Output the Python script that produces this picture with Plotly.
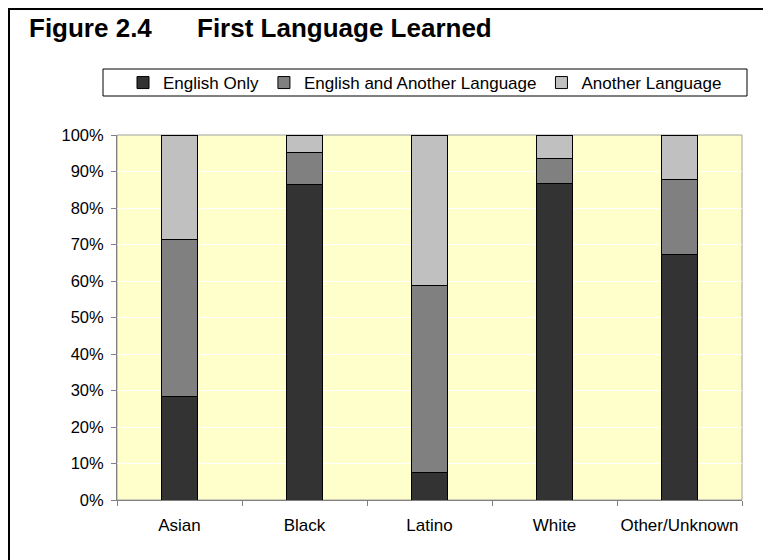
import plotly.graph_objects as go

categories = ["Asian", "Black", "Latino", "White", "Other/Unknown"]
english_only = [28.4, 86.5, 7.4, 86.8, 67.3]
english_and_another = [43.0, 8.8, 51.4, 6.8, 20.6]
another_language = [28.6, 4.7, 41.2, 6.4, 12.1]
series_names = ["English Only", "English and Another Language", "Another Language"]
series_colors = ["#333333", "#808080", "#C0C0C0"]
y_tick_values = [0, 10, 20, 30, 40, 50, 60, 70, 80, 90, 100]
y_tick_labels = ["0%", "10%", "20%", "30%", "40%", "50%", "60%", "70%", "80%", "90%", "100%"]

# the page body adds an 8px offset; work in reference-window pixels
OFF = 8
W, H = 771 - OFF, 560 - OFF
PL, PR, PT, PB = 117, 742, 135, 500  # plot area in window pixels
L, R, T, B = PL - OFF, W - (PR - OFF), PT - OFF, H - (PB - OFF)
pw, ph = W - L - R, H - T - B

def px(x):
    return (x - OFF - L) / pw

def py(y):
    return (H - B - (y - OFF)) / ph

fig = go.Figure()
for name, vals, col in zip(series_names, [english_only, english_and_another, another_language], series_colors):
    fig.add_trace(go.Bar(
        x=categories, y=vals, name=name,
        marker=dict(color=col, line=dict(color="#000000", width=1)),
        width=0.29,
    ))

fig.update_layout(
    width=W, height=H,
    barmode="stack",
    margin=dict(l=L, r=R, t=T, b=B, pad=0),
    paper_bgcolor="white",
    plot_bgcolor="#FFFFCC",
    font=dict(family="Arial, Liberation Sans, sans-serif", size=16, color="black"),
    showlegend=True,
    legend=dict(
        orientation="h", x=px(425), xanchor="center", y=py(83), yanchor="middle",
        bgcolor="rgba(0,0,0,0)", borderwidth=0,
        font=dict(size=17), traceorder="normal",
        itemwidth=30,
    ),
    xaxis=dict(
        showline=True, linecolor="#808080", linewidth=1,
        ticks="outside", ticklen=5, tickcolor="#808080", tickson="boundaries",
        showgrid=False, tickfont=dict(size=17), tickangle=0, ticklabelstandoff=10,
    ),
    yaxis=dict(
        range=[0, 100], tickmode="array", tickvals=y_tick_values, ticktext=y_tick_labels,
        showline=True, linecolor="#808080", linewidth=1,
        ticks="outside", ticklen=5, tickcolor="#808080",
        showgrid=True, gridcolor="white", gridwidth=1,
        zeroline=False, tickfont=dict(size=16.5), ticklabelstandoff=4,
    ),
    shapes=[
        dict(type="rect", xref="paper", yref="paper", x0=0, x1=1, y0=0, y1=1,
             line=dict(color="#A0A0A0", width=1), layer="below"),
        dict(type="rect", xref="paper", yref="paper", x0=px(103), x1=px(747), y0=py(96), y1=py(69),
             line=dict(color="#000000", width=1)),
        dict(type="rect", xref="paper", yref="paper", x0=px(OFF + 1), x1=px(800), y0=py(600), y1=py(OFF + 1),
             line=dict(color="#000000", width=2)),
    ],
    annotations=[
        dict(text="<b>Figure 2.4</b>", xref="paper", yref="paper", x=px(27), y=py(28),
             xanchor="left", yanchor="middle", showarrow=False, font=dict(size=26)),
        dict(text="<b>First Language Learned</b>", xref="paper", yref="paper", x=px(195), y=py(28),
             xanchor="left", yanchor="middle", showarrow=False, font=dict(size=26)),
    ],
)

fig.write_html("out.html")
